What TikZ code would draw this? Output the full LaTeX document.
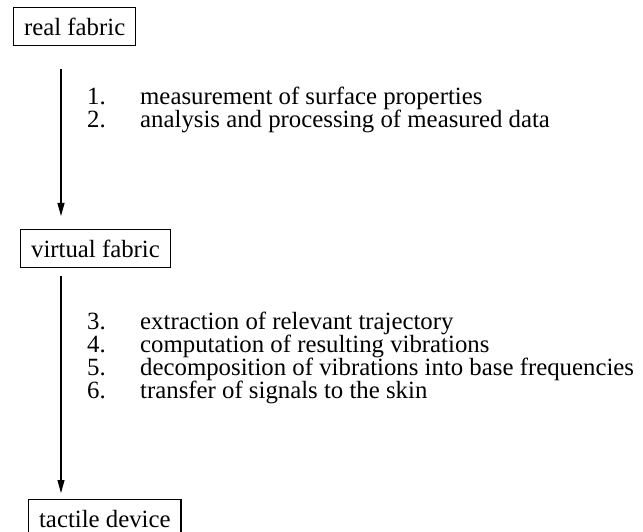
\documentclass[tikz,border=0pt]{standalone}
\usepackage{fontspec}
\setmainfont{Liberation Serif}
\usetikzlibrary{arrows.meta}
\begin{document}
\begin{tikzpicture}[x=1pt,y=-1pt,
  every node/.style={font=\fontsize{24.8}{27}\selectfont},
  stagebox/.style={draw, line width=1.2pt, anchor=north west, inner xsep=10.5pt, inner ysep=4pt, text height=24pt, text depth=6pt},
  flowarrow/.style={line width=1.2pt, -{Triangle[length=13pt,width=7pt]}},
  num/.style={anchor=base west, inner sep=0pt},
  item/.style={anchor=base west, inner sep=0pt}]
\useasboundingbox (0,0) rectangle (643,532);
\node[stagebox] (real) at (13,7) {real fabric};
\node[stagebox] (virtual) at (20,229) {virtual fabric};
\node[stagebox] (tactile) at (28,499) {tactile device};
\draw[flowarrow] ([xshift=48pt,yshift=-23pt]real.south west) -- ([xshift=41pt,yshift=13pt]virtual.north west);
\draw[flowarrow] ([xshift=41pt,yshift=-8pt]virtual.south west) -- ([xshift=33pt,yshift=6pt]tactile.north west);
\node[num] (n1) at (87,105) {1.};
\node[item] (t1) at (140,105) {measurement of surface properties};
\node[num] (n2) at (87,128) {2.};
\node[item] (t2) at (140,128) {analysis and processing of measured data};
\node[num] (n3) at (87,329) {3.};
\node[item] (t3) at (140,329) {extraction of relevant trajectory};
\node[num] (n4) at (87,352) {4.};
\node[item] (t4) at (140,352) {computation of resulting vibrations};
\node[num] (n5) at (87,375) {5.};
\node[item] (t5) at (140,375) {decomposition of vibrations into base frequencies};
\node[num] (n6) at (87,398) {6.};
\node[item] (t6) at (140,398) {transfer of signals to the skin};
\end{tikzpicture}
\end{document}
